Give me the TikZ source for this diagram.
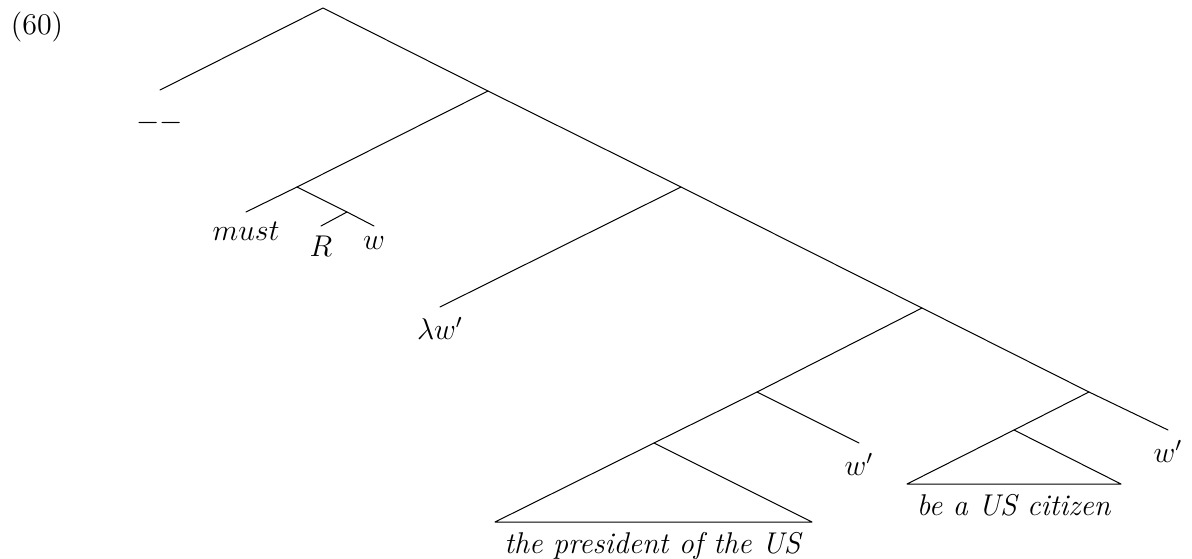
\documentclass[tikz,border=0pt,12pt]{standalone}
\usetikzlibrary{calc}
\begin{document}
\begin{tikzpicture}[x=0.4pt, y=-0.4pt, line cap=round, line join=round,
    leaf/.style={anchor=north}]
\useasboundingbox (0,0) rectangle (1192,559);

% example number
\node (num) at (37,27) {(60)};

% branching points
\coordinate (root) at (323,8);
\coordinate (A) at (488,91);
\coordinate (M) at (297,187);
\coordinate (Rn) at (347,212);
\coordinate (B) at (681,187);
\coordinate (C) at (922,308);
\coordinate (D) at (757,392);
\coordinate (E) at (654,443);
\coordinate (F) at (1089,392);
\coordinate (G) at (1014,430);

% leaf ends
\coordinate (dashend) at (160,90);
\coordinate (mustend) at (246,212);
\coordinate (Rend) at (321,226);
\coordinate (wend) at (374,226);
\coordinate (lamend) at (440,307);
\coordinate (wpend) at (859,443);
\coordinate (spend) at (1168,430);
\coordinate (tpl) at (495,522);
\coordinate (tpr) at (812,522);
\coordinate (tbl) at (907,484);
\coordinate (tbr) at (1121,484);

% spine
\draw (dashend) -- (root) -- (A) -- (B) -- (C) -- (F) -- (spend);

% modal part
\draw (A) -- (M) -- (mustend);
\draw (M) -- (Rn) -- (wend);
\draw (Rn) -- (Rend);

% abstraction
\draw (B) -- (lamend);

% subject and predicate
\draw (C) -- (D) -- (E);
\draw (D) -- (wpend);
\draw (F) -- (G);

% triangles
\draw (tpl) -- (E) -- (tpr) -- cycle;
\draw (tbl) -- (G) -- (tbr) -- cycle;

% labels
\node (dash) at (160,123) {$--$};
\node[leaf] (must) at (mustend) {$must$};
\node[leaf] (R) at (Rend) {$R$};
\node[leaf] (w) at (wend) {$w$};
\node[leaf] (lam) at (lamend) {$\lambda w'$};
\node[leaf] (wp) at (wpend) {$w'$};
\node[leaf] (wpp) at (spend) {$w'$};
\node[leaf] (pres) at ($(tpl)!0.5!(tpr)$) {\textit{the president of the US}};
\node[leaf] (cit) at ($(tbl)!0.5!(tbr)$) {\textit{be a US citizen}};

\end{tikzpicture}
\end{document}
